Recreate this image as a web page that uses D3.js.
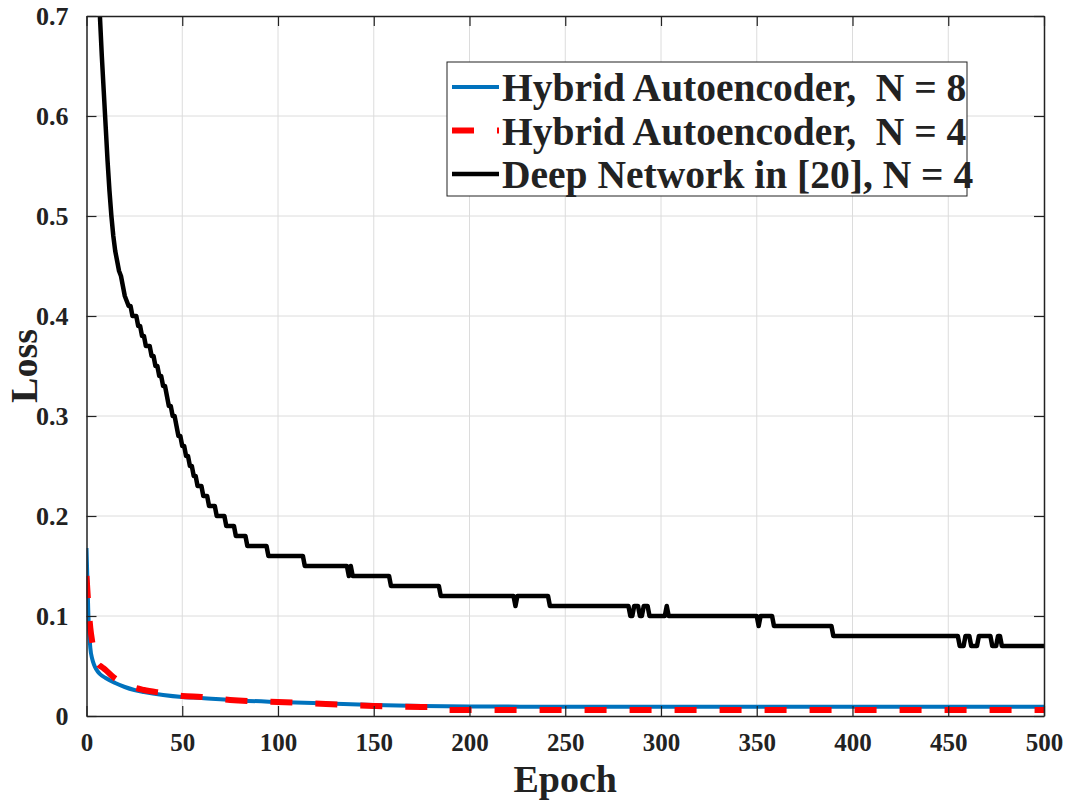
<!DOCTYPE html>
<html>
<head>
<meta charset="utf-8">
<script src="https://cdn.jsdelivr.net/npm/d3@7"></script>
<style>
  body { margin: 0; background: #fff; }
  text { font-family: "Liberation Serif", "Times New Roman", Times, serif; font-weight: bold; fill: #222; }
</style>
</head>
<body>
<div id="chart"></div>
<script>
// tick labels
var xTicks = [0, 50, 100, 150, 200, 250, 300, 350, 400, 450, 500];
var yTicks = [0, 0.1, 0.2, 0.3, 0.4, 0.5, 0.6, 0.7];

// Hybrid Autoencoder, N = 8
var hybrid8Epoch = [0, 1, 2, 3, 4, 5, 7, 10, 15, 20, 25, 30, 40, 50, 60, 75, 100, 125, 150, 175, 200, 250, 300, 350, 400, 450, 500];
var hybrid8Loss  = [0.168, 0.10, 0.068, 0.057, 0.051, 0.047, 0.042, 0.038, 0.033, 0.029, 0.026, 0.024, 0.021, 0.019, 0.018, 0.016, 0.014, 0.0125, 0.011, 0.010, 0.0095, 0.0093, 0.0092, 0.0092, 0.0092, 0.0092, 0.0092];

// Hybrid Autoencoder, N = 4
var hybrid4Epoch = [0, 1, 2, 3, 4, 5, 6, 8, 10, 14, 20, 30, 40, 50, 60, 75, 100, 125, 150, 175, 183, 186, 200, 300, 400, 500];
var hybrid4Loss  = [0.14, 0.11, 0.088, 0.074, 0.063, 0.056, 0.052, 0.049, 0.046, 0.039, 0.032, 0.026, 0.023, 0.020, 0.019, 0.016, 0.014, 0.012, 0.010, 0.009, 0.009, 0.006, 0.006, 0.006, 0.006, 0.006];

// Deep Network in [20], N = 4  ([epoch, loss])
var deepNet = [
  [5, 0.80], [6, 0.745], [7, 0.70], [8, 0.66], [9, 0.625], [10, 0.59], [11, 0.555], [12, 0.525],
  [13, 0.50], [14, 0.48], [15, 0.465], [16, 0.455], [17, 0.445], [18, 0.44], [19, 0.43], [20, 0.42],
  [21, 0.415], [22, 0.41], [23, 0.41], [24, 0.40], [26, 0.40], [27, 0.39], [28, 0.39], [29, 0.38],
  [30, 0.38], [31, 0.37], [33, 0.37], [34, 0.36], [35, 0.36], [36, 0.35], [37, 0.35], [38, 0.34],
  [39, 0.34], [40, 0.33], [41, 0.33], [42, 0.32], [43, 0.31], [44, 0.31], [45, 0.30], [46, 0.30],
  [47, 0.29], [48, 0.28], [49, 0.28], [50, 0.27], [51, 0.27], [52, 0.26], [53, 0.26], [54, 0.25],
  [55, 0.25], [56, 0.24], [57, 0.24], [58, 0.23], [60, 0.23], [61, 0.22], [63, 0.22], [64, 0.21],
  [67, 0.21], [68, 0.20], [72, 0.20], [73, 0.19], [77, 0.19], [78, 0.18], [83, 0.18], [84, 0.17],
  [94, 0.17], [95, 0.16], [113, 0.16], [114, 0.15], [136, 0.15], [137, 0.14], [138, 0.15], [139, 0.14],
  [158, 0.14], [159, 0.13], [184, 0.13], [185, 0.12], [223, 0.12], [224, 0.11], [225, 0.12], [241, 0.12],
  [242, 0.11], [283, 0.11], [284, 0.10], [285, 0.10], [286, 0.11], [288, 0.11], [289, 0.10], [290, 0.10],
  [291, 0.11], [293, 0.11], [294, 0.10], [302, 0.10], [303, 0.11], [304, 0.10], [350, 0.10], [351, 0.09],
  [352, 0.10], [358, 0.10], [359, 0.09], [389, 0.09], [390, 0.08], [455, 0.08], [456, 0.07], [458, 0.07],
  [459, 0.08], [461, 0.08], [462, 0.07], [465, 0.07], [466, 0.08], [472, 0.08], [473, 0.07], [475, 0.07],
  [476, 0.08], [477, 0.08], [478, 0.07], [500, 0.07]
];

var legendNames = ["Hybrid Autoencoder,  N = 8", "Hybrid Autoencoder,  N = 4", "Deep Network in [20], N = 4"];

var W = 1079, H = 809;
var margin = {top: 16, right: 35, bottom: 93, left: 86.5};
var width = W - margin.left - margin.right,
    height = H - margin.top - margin.bottom;

var svg = d3.select("#chart").append("svg")
    .attr("width", W)
    .attr("height", H);

var g = svg.append("g")
    .attr("transform", "translate(" + margin.left + "," + margin.top + ")");

var x = d3.scaleLinear().domain([0, 500]).range([0, width]);
var y = d3.scaleLinear().domain([0, 0.7]).range([height, 0]);

// grid
g.append("g").selectAll("line")
    .data(xTicks.slice(1, -1))
    .enter().append("line")
    .attr("x1", d => x(d)).attr("x2", d => x(d))
    .attr("y1", 0).attr("y2", height)
    .attr("stroke", "#dcdcdc").attr("stroke-width", 1);

g.append("g").selectAll("line")
    .data(yTicks.slice(1, -1))
    .enter().append("line")
    .attr("y1", d => y(d)).attr("y2", d => y(d))
    .attr("x1", 0).attr("x2", width)
    .attr("stroke", "#dcdcdc").attr("stroke-width", 1);

// clip
svg.append("defs").append("clipPath").attr("id", "plotClip")
  .append("rect").attr("width", width).attr("height", height);

var plot = g.append("g").attr("clip-path", "url(#plotClip)");

var line = d3.line()
    .x(d => x(d[0]))
    .y(d => y(d[1]));

var h8 = hybrid8Epoch.map((e, i) => [e, hybrid8Loss[i]]);
var h4 = hybrid4Epoch.map((e, i) => [e, hybrid4Loss[i]]);

plot.append("path").datum(h8)
    .attr("fill", "none")
    .attr("stroke", "#0072bd")
    .attr("stroke-width", 4)
    .attr("d", line.curve(d3.curveMonotoneX));

plot.append("path").datum(h4)
    .attr("fill", "none")
    .attr("stroke", "#ff0000")
    .attr("stroke-width", 6)
    .attr("stroke-dasharray", "22,23")
    .attr("d", line.curve(d3.curveMonotoneX));

plot.append("path").datum(deepNet)
    .attr("fill", "none")
    .attr("stroke", "#000")
    .attr("stroke-width", 4.5)
    .attr("stroke-linejoin", "round")
    .attr("d", line.curve(d3.curveLinear));

// axes (MATLAB style: ticks inside, box)
var tickLen = 10;
g.append("g")
    .attr("transform", "translate(0," + height + ")")
    .call(d3.axisBottom(x).tickValues(xTicks).tickSizeInner(-tickLen).tickSizeOuter(0).tickPadding(17))
    .call(a => a.selectAll("text").attr("font-size", "25px").attr("fill", "#222"));

g.append("g")
    .call(d3.axisLeft(y).tickValues(yTicks).tickFormat(d => d === 0 ? "0" : d3.format(".1f")(d))
      .tickSizeInner(-tickLen).tickSizeOuter(0).tickPadding(18))
    .call(a => a.selectAll("text").attr("font-size", "26px").attr("fill", "#222"));

g.append("g")
    .call(d3.axisTop(x).tickValues(xTicks).tickSizeInner(-tickLen).tickSizeOuter(0).tickFormat(""));

g.append("g")
    .attr("transform", "translate(" + width + ",0)")
    .call(d3.axisRight(y).tickValues(yTicks).tickSizeInner(-tickLen).tickSizeOuter(0).tickFormat(""));

g.selectAll(".domain").attr("stroke", "#222").attr("stroke-width", 1.5);
g.selectAll(".tick line").attr("stroke", "#222").attr("stroke-width", 1.2);
g.selectAll("g").attr("font-family", null);

// axis titles
g.append("text")
    .attr("x", width / 2)
    .attr("y", height + 76)
    .attr("text-anchor", "middle")
    .attr("font-size", "38px")
    .text("Epoch");

g.append("text")
    .attr("transform", "translate(" + (-50) + "," + (height / 2) + ") rotate(-90)")
    .attr("text-anchor", "middle")
    .attr("font-size", "38px")
    .text("Loss");

// legend
var legend = svg.append("g").attr("transform", "translate(447,62)");
legend.append("rect")
    .attr("width", 520).attr("height", 134)
    .attr("fill", "#fff").attr("stroke", "#222").attr("stroke-width", 1);

var legendStyles = [
    {stroke: "#0072bd", width: 4, dash: null},
    {stroke: "#ff0000", width: 6, dash: "22,23"},
    {stroke: "#000", width: 4.5, dash: null}
];

var rows = legend.selectAll(".key")
    .data(legendNames)
    .enter().append("g")
    .attr("class", "key")
    .attr("transform", (d, i) => "translate(0," + (25 + i * 43.5) + ")");

rows.append("line")
    .attr("x1", 5).attr("x2", 52)
    .attr("stroke", (d, i) => legendStyles[i].stroke)
    .attr("stroke-width", (d, i) => legendStyles[i].width)
    .attr("stroke-dasharray", (d, i) => legendStyles[i].dash);

rows.append("text")
    .attr("x", 55)
    .attr("y", 14)
    .attr("font-size", "39.5px")
    .attr("fill", "#000")
    .style("white-space", "pre")
    .text(d => d);
</script>
</body>
</html>
